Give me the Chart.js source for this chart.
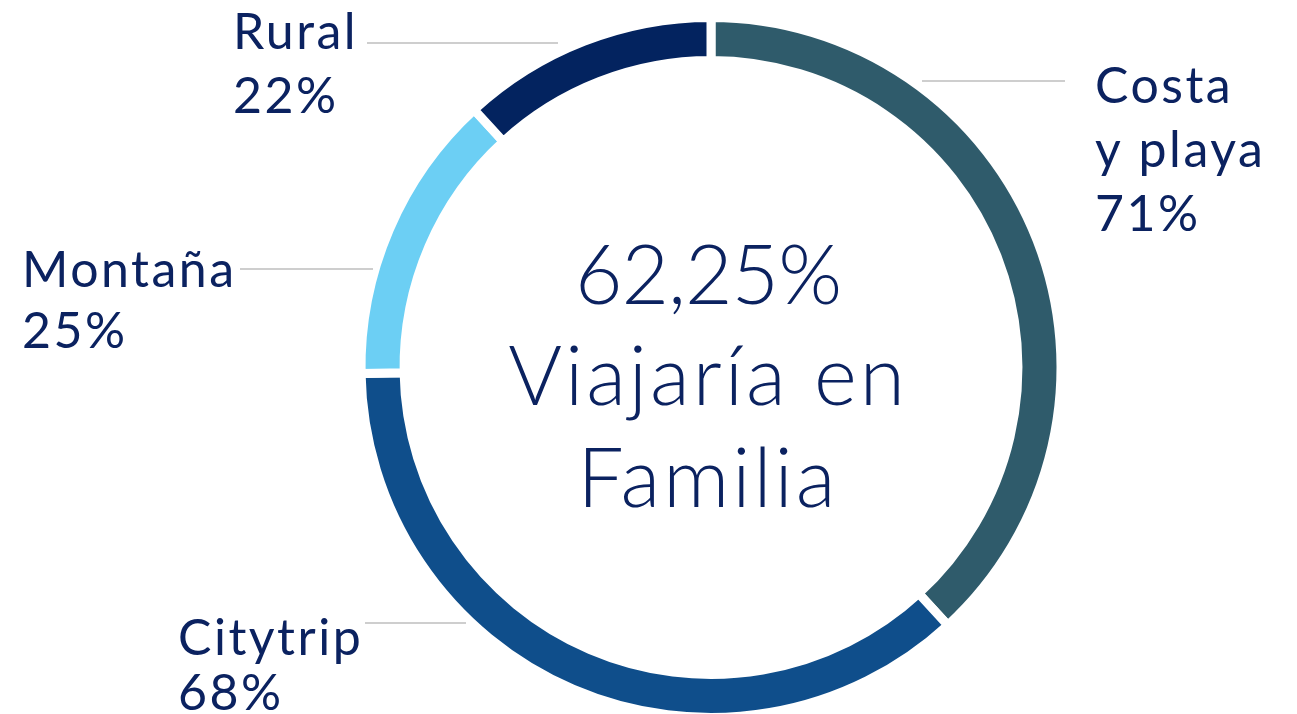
<!DOCTYPE html>
<html>
<head>
<meta charset="utf-8">
<script src="https://cdn.jsdelivr.net/npm/chart.js@4"></script>
<style>
html, body { margin: 0; padding: 0; background: #fff; overflow: hidden; }
#wrap { position: relative; width: 1297px; height: 730px; }
</style>
</head>
<body>
<div id="wrap"><canvas id="myChart"></canvas></div>
<script>
// datos del gráfico
var categories = ["Costa y playa", "Citytrip", "Montaña", "Rural"];
var labelLines = [["Costa", "y playa"], ["Citytrip"], ["Montaña"], ["Rural"]];
var values = [71, 68, 25, 22];
var valueLabels = ["71%", "68%", "25%", "22%"];
var centerLines = ["62,25%", "Viajaría en", "Familia"];

// estilos
var colors = ["#2F5B6B", "#0F4E8B", "#6CCFF4", "#03235F"];
var textColor = "#0B2260";
var lineColor = "#BEBEBE";

// posición de las etiquetas (texto + línea guía), en px del lienzo
var labelLayout = [
    { x: 1095, y: 103, step: 64, line: [922, 1065, 81] },
    { x: 178, y: 655, step: 55, line: [365, 466, 623] },
    { x: 22, y: 287, step: 61, line: [240, 373, 269] },
    { x: 233, y: 49, step: 64, line: [367, 558, 43] }
];

var labelPlugin = {
    id: "labelPlugin",
    afterDraw: function(chart) {
        var ctx = chart.ctx;
        var arc = chart.getDatasetMeta(0).data[0];
        ctx.save();

        // líneas guía
        ctx.strokeStyle = lineColor;
        ctx.lineWidth = 1.5;
        labelLayout.forEach(function(l) {
            ctx.beginPath();
            ctx.moveTo(l.line[0], l.line[2]);
            ctx.lineTo(l.line[1], l.line[2]);
            ctx.stroke();
        });

        // etiquetas
        ctx.fillStyle = textColor;
        ctx.textAlign = "left";
        ctx.textBaseline = "alphabetic";
        ctx.font = "400 50px Lato";
        ctx.letterSpacing = "2.5px";
        for (var i = 0; i < categories.length; i++) {
            var l = labelLayout[i];
            var lines = labelLines[i].concat([valueLabels[i]]);
            for (var j = 0; j < lines.length; j++) {
                ctx.fillText(lines[j], l.x, l.y + j * l.step);
            }
        }

        // texto central
        ctx.textAlign = "center";
        ctx.font = "300 82px Lato";
        var baselines = [-63.5, 37.5, 139.5];
        var spacing = ["-1px", "3px", "3px"];
        for (var k = 0; k < centerLines.length; k++) {
            ctx.letterSpacing = spacing[k];
            ctx.fillText(centerLines[k], arc.x - 3, arc.y + baselines[k]);
        }
        ctx.restore();
    }
};

var ctx = document.getElementById("myChart").getContext("2d");
var myChart = new Chart(ctx, {
    type: "doughnut",
    data: {
        labels: categories,
        datasets: [{
            data: values,
            backgroundColor: colors,
            borderColor: "#ffffff",
            borderWidth: 9,
            hoverBorderWidth: 9,
            hoverOffset: 0
        }]
    },
    options: {
        responsive: true,
        maintainAspectRatio: false,
        animation: false,
        cutout: "87.7%",
        layout: { padding: { left: 125, right: 0, top: 13, bottom: 8 } },
        plugins: {
            legend: { display: false },
            tooltip: { enabled: false }
        }
    },
    plugins: [labelPlugin]
});
</script>
</body>
</html>
